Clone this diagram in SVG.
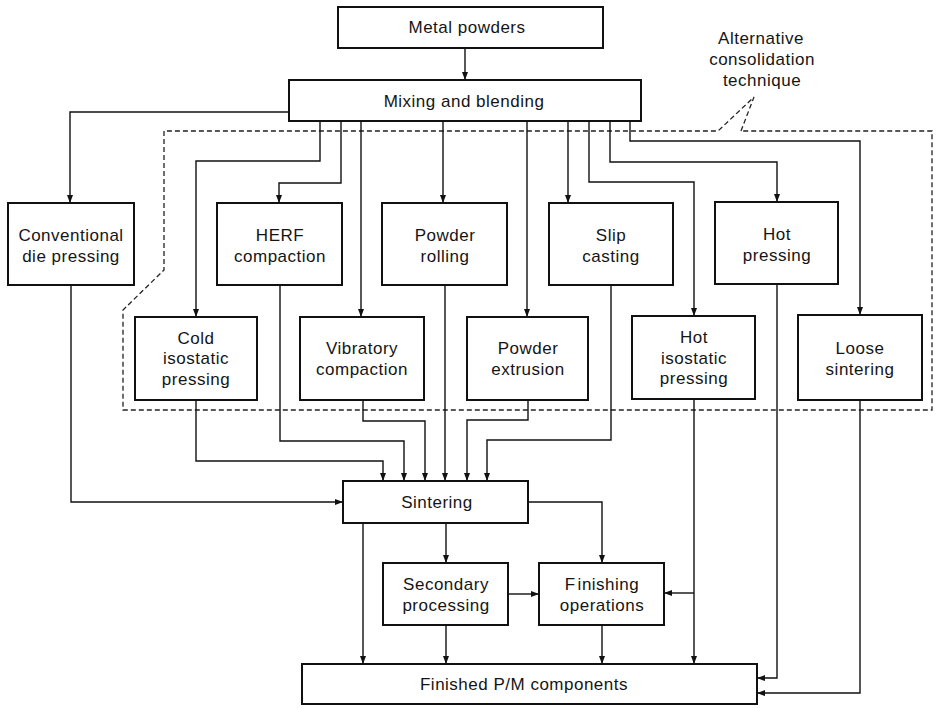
<svg xmlns="http://www.w3.org/2000/svg" width="940" height="708" viewBox="0 0 940 708">
  <defs>
    <marker id="arrow" markerUnits="userSpaceOnUse" markerWidth="8" markerHeight="6" refX="8" refY="3" orient="auto">
      <path d="M0,0 L8,3 L0,6 z" fill="#111"/>
    </marker>
    <style>
      .box { fill: #fff; stroke: #111; stroke-width: 2; }
      .lbl { font-family: "Liberation Sans", Arial, sans-serif; font-size: 17px; letter-spacing: 0.5px; fill: #151515; text-anchor: middle; }
      .wire { fill: none; stroke: #111; stroke-width: 1.4; marker-end: url(#arrow); }
      .dash { fill: none; stroke: #222; stroke-width: 1.3; stroke-dasharray: 5 3; }
    </style>
  </defs>
  <rect width="940" height="708" fill="#fff"/>

  <!-- region of alternative consolidation techniques -->
  <g id="alt-region">
    <path class="dash" d="M741,131 L754,97 L718,131 H164 V270 L123,310 V410 H932 V131 H741"/>
    <text class="lbl" x="761" y="44">Alternative</text>
    <text class="lbl" x="762" y="65">consolidation</text>
    <text class="lbl" x="762" y="86">technique</text>
  </g>

  <!-- connectors -->
  <g id="connectors">
    <path class="wire" d="M465,48 V80"/>
    <path class="wire" d="M289,112 H70 V203"/>
    <path class="wire" d="M320,121 V161 H196 V317"/>
    <path class="wire" d="M341,121 V183 H279 V203"/>
    <path class="wire" d="M361,121 V317"/>
    <path class="wire" d="M443,121 V203"/>
    <path class="wire" d="M527,121 V317"/>
    <path class="wire" d="M568,121 V203"/>
    <path class="wire" d="M589,121 V182 H694 V316"/>
    <path class="wire" d="M610,121 V162 H777 V202"/>
    <path class="wire" d="M630,121 V141 H860 V315"/>

    <path class="wire" d="M196,400 V461 H383 V481"/>
    <path class="wire" d="M280,285 V441 H404 V481"/>
    <path class="wire" d="M363,400 V421 H425 V481"/>
    <path class="wire" d="M445,285 V481"/>
    <path class="wire" d="M528,400 V420 H467 V481"/>
    <path class="wire" d="M611,285 V440 H487 V481"/>
    <path class="wire" d="M71,285 V502 H343"/>

    <path class="wire" d="M694,399 V664"/>
    <path class="wire" d="M694,593 H664"/>
    <path class="wire" d="M777,284 V678 H757"/>
    <path class="wire" d="M860,400 V693 H757"/>

    <path class="wire" d="M363,523 V664"/>
    <path class="wire" d="M446,523 V563"/>
    <path class="wire" d="M528,502 H602 V563"/>
    <path class="wire" d="M508,594 H539"/>
    <path class="wire" d="M446,625 V664"/>
    <path class="wire" d="M602,625 V664"/>
  </g>

  <g id="metal-powders">
    <rect class="box" x="338" y="7" width="265" height="41"/>
    <text class="lbl" x="467" y="33">Metal powders</text>
  </g>
  <g id="mixing">
    <rect class="box" x="289" y="80" width="352" height="41"/>
    <text class="lbl" x="464" y="107">Mixing and blending</text>
  </g>

  <g id="conventional">
    <rect class="box" x="8" y="203" width="126" height="82"/>
    <text class="lbl" x="71" y="241">Conventional</text>
    <text class="lbl" x="71" y="262">die pressing</text>
  </g>
  <g id="herf">
    <rect class="box" x="217" y="203" width="125" height="82"/>
    <text class="lbl" x="280" y="241" letter-spacing="2">HERF</text>
    <text class="lbl" x="280" y="262">compaction</text>
  </g>
  <g id="powder-rolling">
    <rect class="box" x="382" y="203" width="125" height="82"/>
    <text class="lbl" x="445" y="241">Powder</text>
    <text class="lbl" x="445" y="262">rolling</text>
  </g>
  <g id="slip-casting">
    <rect class="box" x="549" y="203" width="124" height="82"/>
    <text class="lbl" x="611" y="241">Slip</text>
    <text class="lbl" x="611" y="262">casting</text>
  </g>
  <g id="hot-pressing">
    <rect class="box" x="715" y="202" width="123" height="82"/>
    <text class="lbl" x="777" y="240">Hot</text>
    <text class="lbl" x="777" y="261">pressing</text>
  </g>

  <g id="cold-isostatic">
    <rect class="box" x="135" y="317" width="122" height="83"/>
    <text class="lbl" x="196" y="344">Cold</text>
    <text class="lbl" x="196" y="364">isostatic</text>
    <text class="lbl" x="196" y="385">pressing</text>
  </g>
  <g id="vibratory">
    <rect class="box" x="300" y="317" width="124" height="83"/>
    <text class="lbl" x="362" y="354">Vibratory</text>
    <text class="lbl" x="362" y="375">compaction</text>
  </g>
  <g id="powder-extrusion">
    <rect class="box" x="467" y="317" width="121" height="83"/>
    <text class="lbl" x="528" y="354">Powder</text>
    <text class="lbl" x="528" y="375">extrusion</text>
  </g>
  <g id="hot-isostatic">
    <rect class="box" x="632" y="316" width="123" height="83"/>
    <text class="lbl" x="694" y="343">Hot</text>
    <text class="lbl" x="694" y="364">isostatic</text>
    <text class="lbl" x="694" y="384">pressing</text>
  </g>
  <g id="loose-sintering">
    <rect class="box" x="798" y="315" width="124" height="85"/>
    <text class="lbl" x="860" y="354">Loose</text>
    <text class="lbl" x="860" y="375">sintering</text>
  </g>

  <g id="sintering">
    <rect class="box" x="343" y="481" width="185" height="42"/>
    <text class="lbl" x="437" y="508">Sintering</text>
  </g>
  <g id="secondary">
    <rect class="box" x="383" y="563" width="125" height="62"/>
    <text class="lbl" x="446" y="590">Secondary</text>
    <text class="lbl" x="446" y="611">processing</text>
  </g>
  <g id="finishing">
    <rect class="box" x="539" y="563" width="125" height="62"/>
    <text class="lbl" x="602" y="590">F<tspan dx="2">inishing</tspan></text>
    <text class="lbl" x="602" y="611">operations</text>
  </g>
  <g id="finished">
    <rect class="box" x="302" y="664" width="455" height="40"/>
    <text class="lbl" x="524" y="690">Finished P/M components</text>
  </g>
</svg>
